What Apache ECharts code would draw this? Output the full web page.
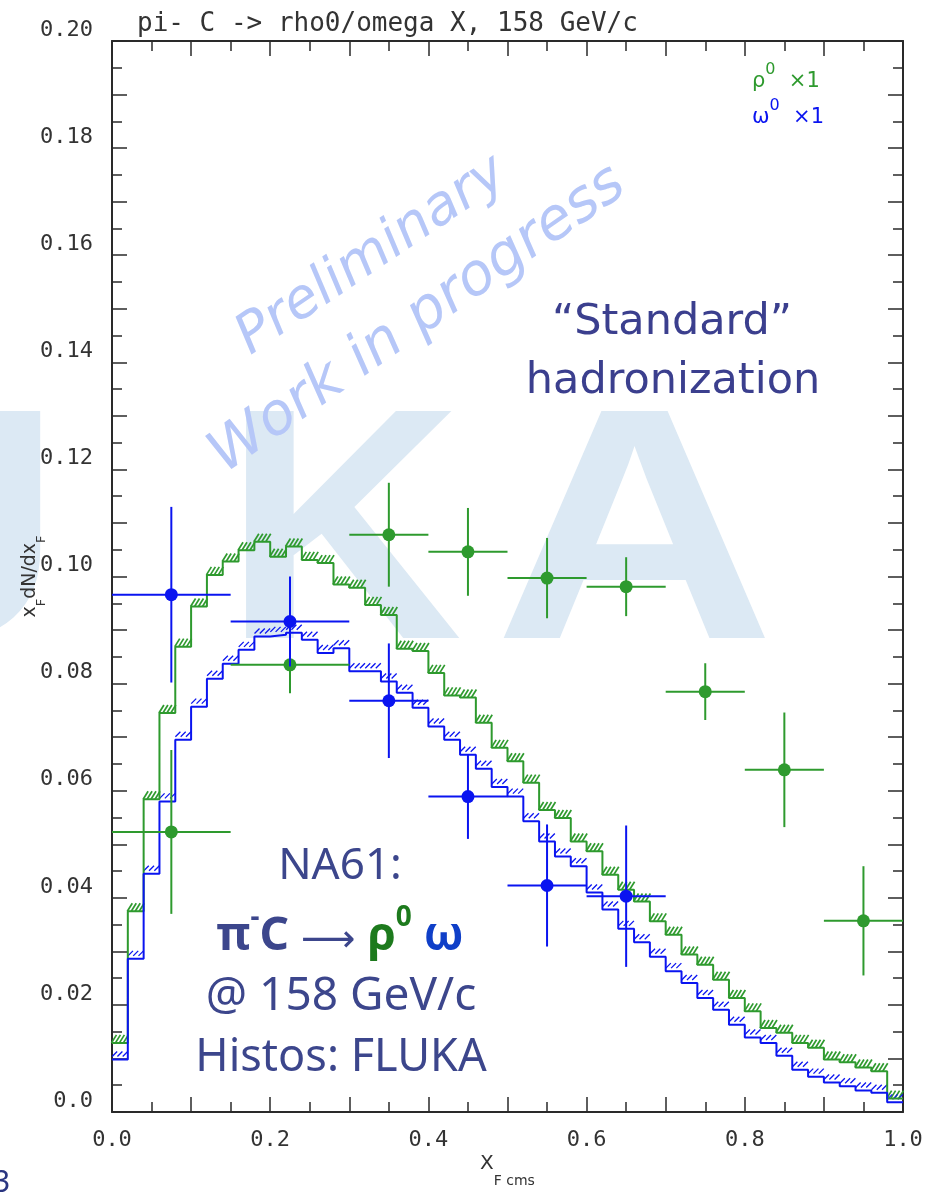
<!DOCTYPE html>
<html>
<head>
<meta charset="utf-8">
<script src="https://cdn.jsdelivr.net/npm/echarts@6/dist/echarts.min.js"></script>
<style>
html, body { margin: 0; padding: 0; background: #fff; }
#chart { width: 943px; height: 1199px; }
</style>
</head>
<body>
<div id="chart"></div>
<script>
// FLUKA histograms: 50 bins of width 0.02 in x_F
const binWidth = 0.02;
const rhoHisto = [
  0.0129, 0.0375, 0.0584, 0.0745, 0.0869, 0.0944, 0.1003, 0.1028, 0.1049, 0.1065,
  0.1037, 0.1056, 0.1031, 0.1025, 0.0985, 0.0979, 0.0947, 0.0928, 0.0865, 0.0861,
  0.0820, 0.0778, 0.0774, 0.0727, 0.0680, 0.0655, 0.0615, 0.0564, 0.0549, 0.0505,
  0.0487, 0.0443, 0.0415, 0.0393, 0.0356, 0.0331, 0.0294, 0.0275, 0.0247, 0.0213,
  0.0188, 0.0157, 0.0148, 0.0129, 0.0120, 0.0098, 0.0093, 0.0083, 0.0076, 0.0025
];
const omegaHisto = [
  0.0098, 0.0286, 0.0445, 0.0580, 0.0695, 0.0757, 0.0809, 0.0837, 0.0863, 0.0888,
  0.0891, 0.0895, 0.0882, 0.0857, 0.0866, 0.0823, 0.0823, 0.0804, 0.0783, 0.0755,
  0.0720, 0.0695, 0.0667, 0.0641, 0.0607, 0.0589, 0.0543, 0.0505, 0.0477, 0.0459,
  0.0410, 0.0378, 0.0342, 0.0317, 0.0290, 0.0263, 0.0241, 0.0213, 0.0191, 0.0163,
  0.0139, 0.0129, 0.0105, 0.0079, 0.0066, 0.0055, 0.0048, 0.0040, 0.0036, 0.0018
];

// NA61 data points
const rhoX     = [0.075, 0.225, 0.35, 0.45, 0.55, 0.65, 0.75, 0.85, 0.95];
const rhoXLow  = [0.00, 0.15, 0.30, 0.40, 0.50, 0.60, 0.70, 0.80, 0.90];
const rhoXHigh = [0.15, 0.30, 0.40, 0.50, 0.60, 0.70, 0.80, 0.90, 1.00];
const rhoY     = [0.0523, 0.0835, 0.1078, 0.1046, 0.0997, 0.0981, 0.0785, 0.0639, 0.0357];
const rhoErr   = [0.0153, 0.0053, 0.0097, 0.0082, 0.0075, 0.0055, 0.0053, 0.0107, 0.0102];

const omegaX     = [0.075, 0.225, 0.35, 0.45, 0.55, 0.65];
const omegaXLow  = [0.00, 0.15, 0.30, 0.40, 0.50, 0.60];
const omegaXHigh = [0.15, 0.30, 0.40, 0.50, 0.60, 0.70];
const omegaY     = [0.0966, 0.0916, 0.0768, 0.0589, 0.0423, 0.0403];
const omegaErr   = [0.0164, 0.0084, 0.0107, 0.0079, 0.0114, 0.0132];

const green = '#2e9a2e';
const blue = '#0a14f0';
const navy = '#3c468c';
const ink = '#2a2a2a';
const logoFill = '#dce9f4';

function stepData(vals) {
  const d = vals.map((v, i) => [i * binWidth, v]);
  d.push([1.0, vals[vals.length - 1]]);
  return d;
}
function hatchData(vals) {
  return vals.map((v, i) => [i * binWidth, (i + 1) * binWidth, v]);
}
function pointData(xs, lo, hi, ys, err) {
  return xs.map((x, i) => [lo[i], hi[i], x, ys[i], err[i]]);
}

// little slanted strokes on top of each histogram bin
function hatchRender(off0, off1, n, lw) {
  return function (params, api) {
    const a = api.coord([api.value(0), api.value(2)]);
    const b = api.coord([api.value(1), api.value(2)]);
    const w = b[0] - a[0];
    const kids = [];
    for (let i = 0; i < n; i++) {
      const x = a[0] + w * (i + 0.5) / n;
      kids.push({
        type: 'line',
        shape: { x1: x - 2.5, y1: a[1] - off0, x2: x + 2.5, y2: a[1] - off1 },
        style: { stroke: api.visual('color'), lineWidth: lw }
      });
    }
    return { type: 'group', children: kids };
  };
}

function errRender(params, api) {
  const y = api.value(3), e = api.value(4);
  const c = api.coord([api.value(2), y]);
  const l = api.coord([api.value(0), y]);
  const r = api.coord([api.value(1), y]);
  const t = api.coord([api.value(2), y + e]);
  const b = api.coord([api.value(2), y - e]);
  const st = { stroke: api.visual('color'), lineWidth: 2 };
  return {
    type: 'group',
    children: [
      { type: 'line', shape: { x1: l[0], y1: l[1], x2: r[0], y2: r[1] }, style: st },
      { type: 'line', shape: { x1: t[0], y1: t[1], x2: b[0], y2: b[1] }, style: st },
      { type: 'circle', shape: { cx: c[0], cy: c[1], r: 6.5 }, style: { fill: api.visual('color') } }
    ]
  };
}

function axisBase(extra) {
  return Object.assign({
    type: 'value',
    axisLine: { show: true, onZero: false, lineStyle: { color: ink, width: 2 } },
    axisTick: { show: true, inside: true, length: 15, lineStyle: { color: ink, width: 1.5 } },
    minorTick: { show: true, splitNumber: 2, length: 10, lineStyle: { color: ink, width: 1.5 } },
    splitLine: { show: false },
    nameMoveOverlap: false
  }, extra);
}

const monoLabel = { fontFamily: 'DejaVu Sans Mono', fontSize: 22, color: '#333' };

const chart = echarts.init(document.getElementById('chart'));
chart.setOption({
  animation: false,
  backgroundColor: '#fff',
  title: {
    text: 'pi- C -> rho0/omega X, 158 GeV/c',
    left: 132, top: 6,
    textStyle: { fontFamily: 'DejaVu Sans Mono', fontSize: 26, fontWeight: 'normal', color: '#333' }
  },
  grid: { left: 112, right: 40, top: 41, bottom: 87, containLabel: false, outerBoundsMode: 'none' },
  xAxis: [
    axisBase({
      min: 0, max: 1, interval: 0.1,
      axisLabel: Object.assign({
        margin: 17,
        formatter: v => (Math.round(v * 10) % 2 === 0 ? v.toFixed(1) : '')
      }, monoLabel),
      name: '{m|X}{s|F cms}',
      nameLocation: 'middle',
      nameGap: 42,
      nameTextStyle: {
        rich: {
          m: { fontFamily: 'DejaVu Sans', fontSize: 20, color: '#333', lineHeight: 34, verticalAlign: 'top' },
          s: { fontFamily: 'DejaVu Sans', fontSize: 14, color: '#333', lineHeight: 34, verticalAlign: 'bottom' }
        }
      }
    }),
    axisBase({ position: 'top', min: 0, max: 1, interval: 0.1, axisLabel: { show: false } })
  ],
  yAxis: [
    axisBase({
      min: 0, max: 0.2, interval: 0.01,
      axisLabel: Object.assign({
        margin: 19,
        verticalAlign: 'bottom',
        formatter: v => {
          if (v === 0) return '0.0';
          return Math.round(v * 100) % 2 === 0 ? v.toFixed(2) : '';
        }
      }, monoLabel),
      name: '{m|x}{s|F}{m|dN/dx}{s|F}',
      nameLocation: 'middle',
      nameRotate: 90,
      nameGap: 64,
      nameTextStyle: {
        rich: {
          m: { fontFamily: 'DejaVu Sans', fontSize: 19, color: '#333', lineHeight: 27, verticalAlign: 'top' },
          s: { fontFamily: 'DejaVu Sans', fontSize: 13, color: '#333', lineHeight: 27, verticalAlign: 'bottom' }
        }
      }
    }),
    axisBase({ position: 'right', min: 0, max: 0.2, interval: 0.01, axisLabel: { show: false } })
  ],
  graphic: [
    // faded FLUKA logo behind the plot
    { type: 'text', z: -10, left: -178, top: 382, style: { text: 'U', font: 'bold 330px "Liberation Sans"', fill: logoFill } },
    { type: 'text', z: -10, left: 224, top: 382, style: { text: 'K', font: 'bold 330px "Liberation Sans"', fill: logoFill } },
    { type: 'text', z: -10, left: 494, top: 382, scaleX: 1.18, style: { text: 'A', font: 'bold 330px "Liberation Sans"', fill: logoFill } },
    // watermark
    { type: 'text', z: 1, x: 372, y: 256, rotation: 34 * Math.PI / 180,
      style: { text: 'Preliminary', font: 'italic 55px "DejaVu Sans"', fill: '#b6c7f8', align: 'center', verticalAlign: 'middle' } },
    { type: 'text', z: 1, x: 418, y: 320, rotation: 35 * Math.PI / 180,
      style: { text: 'Work in progress', font: 'italic 58px "DejaVu Sans"', fill: '#b6c7f8', align: 'center', verticalAlign: 'middle' } },
    // annotation on the right
    { type: 'text', z: 5, x: 672, y: 323,
      style: { text: '\u201CStandard\u201D', font: '43px "DejaVu Sans"', fill: '#3b3f8e', align: 'center', verticalAlign: 'middle' } },
    { type: 'text', z: 5, x: 673, y: 382,
      style: { text: 'hadronization', font: '43px "DejaVu Sans"', fill: '#3b3f8e', align: 'center', verticalAlign: 'middle' } },
    // legend
    { type: 'text', z: 5, left: 752, top: 62,
      style: {
        text: '{b|\u03C1}{t|0}{b|  \u00D71}',
        rich: {
          b: { fontFamily: 'DejaVu Sans', fontSize: 21, fill: green, lineHeight: 30, verticalAlign: 'bottom' },
          t: { fontFamily: 'DejaVu Sans', fontSize: 16, fill: green, lineHeight: 30, verticalAlign: 'top' }
        }
      } },
    { type: 'text', z: 5, left: 752, top: 98,
      style: {
        text: '{b|\u03C9}{t|0}{b|  \u00D71}',
        rich: {
          b: { fontFamily: 'DejaVu Sans', fontSize: 21, fill: blue, lineHeight: 30, verticalAlign: 'bottom' },
          t: { fontFamily: 'DejaVu Sans', fontSize: 16, fill: blue, lineHeight: 30, verticalAlign: 'top' }
        }
      } },
    // NA61 block
    { type: 'text', z: 5, x: 340, y: 866,
      style: { text: 'NA61:', font: '44px "Noto Sans"', fill: navy, align: 'center', verticalAlign: 'middle' } },
    { type: 'text', z: 5, x: 340, y: 932,
      style: {
        text: '{p|\u03C0}{s|-}{p|C }{a|\u27F6}{r| \u03C1}{rs|0}{o| \u03C9}',
        align: 'center', verticalAlign: 'middle',
        rich: {
          p: { fontFamily: 'Noto Sans', fontWeight: 'bold', fontSize: 46, fill: navy, lineHeight: 56, verticalAlign: 'bottom' },
          s: { fontFamily: 'Noto Sans', fontWeight: 'bold', fontSize: 28, fill: navy, lineHeight: 56, verticalAlign: 'top' },
          a: { fontFamily: 'DejaVu Sans', fontSize: 38, fill: navy, lineHeight: 56, verticalAlign: 'bottom' },
          r: { fontFamily: 'Noto Sans', fontWeight: 'bold', fontSize: 46, fill: '#1d7a1d', lineHeight: 56, verticalAlign: 'bottom' },
          rs: { fontFamily: 'Noto Sans', fontWeight: 'bold', fontSize: 28, fill: '#1d7a1d', lineHeight: 56, verticalAlign: 'top' },
          o: { fontFamily: 'Noto Sans', fontWeight: 'bold', fontSize: 46, fill: '#0f3fc8', lineHeight: 56, verticalAlign: 'bottom' }
        }
      } },
    { type: 'text', z: 5, x: 341, y: 997,
      style: { text: '@ 158 GeV/c', font: '46px "Noto Sans"', fill: navy, align: 'center', verticalAlign: 'middle' } },
    { type: 'text', z: 5, x: 341, y: 1058,
      style: { text: 'Histos: FLUKA', font: '45px "Noto Sans"', fill: navy, align: 'center', verticalAlign: 'middle' } },
    // slide number peeking in at the corner
    { type: 'text', z: 5, left: -7, top: 1168,
      style: { text: '3', font: '30px "Noto Sans"', fill: '#2a3580' } }
  ],
  series: [
    {
      name: 'rho0', type: 'line', step: 'end', symbol: 'none', z: 3,
      data: stepData(rhoHisto),
      lineStyle: { color: green, width: 2 }
    },
    {
      name: 'omega', type: 'line', step: 'end', symbol: 'none', z: 3,
      data: stepData(omegaHisto),
      lineStyle: { color: blue, width: 2 }
    },
    {
      name: 'rho0 err', type: 'custom', z: 3,
      renderItem: hatchRender(0, 8, 4, 1.7),
      itemStyle: { color: green },
      encode: { x: [0, 1], y: 2 },
      data: hatchData(rhoHisto)
    },
    {
      name: 'omega err', type: 'custom', z: 3,
      renderItem: hatchRender(3, 8, 3, 1.3),
      itemStyle: { color: blue },
      encode: { x: [0, 1], y: 2 },
      data: hatchData(omegaHisto)
    },
    {
      name: 'rho0 NA61', type: 'custom', z: 4,
      renderItem: errRender,
      itemStyle: { color: green },
      encode: { x: [0, 1, 2], y: 3 },
      data: pointData(rhoX, rhoXLow, rhoXHigh, rhoY, rhoErr)
    },
    {
      name: 'omega NA61', type: 'custom', z: 4,
      renderItem: errRender,
      itemStyle: { color: blue },
      encode: { x: [0, 1, 2], y: 3 },
      data: pointData(omegaX, omegaXLow, omegaXHigh, omegaY, omegaErr)
    }
  ]
});
</script>
</body>
</html>
